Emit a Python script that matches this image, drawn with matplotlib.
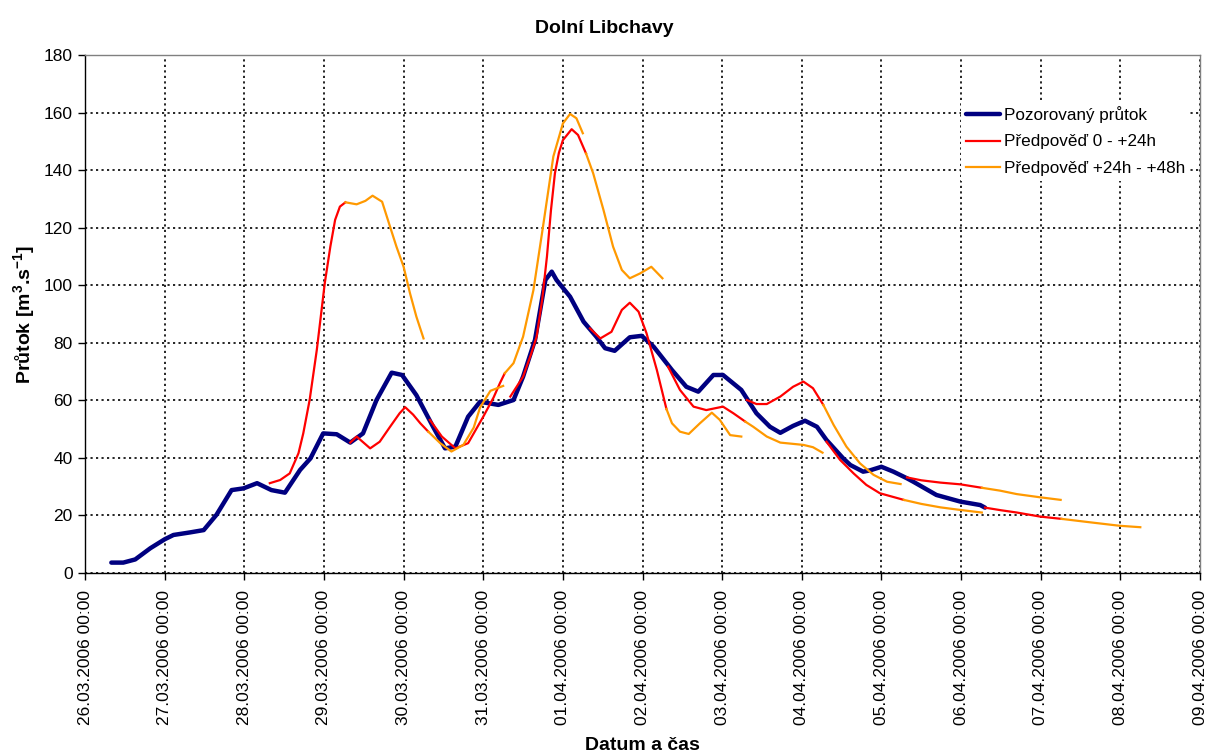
import datetime as dt
import matplotlib
matplotlib.use("Agg")
import matplotlib.pyplot as plt
import matplotlib.dates as mdates

plt.rcParams['font.family'] = ['Liberation Sans', 'DejaVu Sans']
plt.rcParams['mathtext.fontset'] = 'custom'
plt.rcParams['mathtext.rm'] = 'Liberation Sans'
plt.rcParams['mathtext.bf'] = 'Liberation Sans:bold'

# Time is given in days since 26.03.2006 00:00
START = dt.datetime(2006, 3, 26)

# Observed discharge
obs_days = [0.33, 0.48, 0.63, 0.82, 1.00, 1.11, 1.32, 1.49, 1.65, 1.84, 1.99, 2.16,
            2.34, 2.51, 2.70, 2.83, 2.99, 3.16, 3.33, 3.49, 3.66, 3.85, 3.98, 4.16,
            4.37, 4.52, 4.65, 4.81, 4.96, 5.19, 5.38, 5.50, 5.65, 5.78, 5.86, 5.92,
            6.09, 6.26, 6.42, 6.53, 6.65, 6.84, 6.99, 7.14, 7.37, 7.55, 7.70, 7.89,
            8.01, 8.24, 8.43, 8.60, 8.73, 8.89, 9.04, 9.19, 9.31, 9.52, 9.61, 9.77,
            9.85, 10.00, 10.15, 10.32, 10.40, 10.69, 10.99, 11.24, 11.30]
obs_vals = [3.6, 3.6, 4.7, 8.6, 11.7, 13.2, 14.1, 14.9, 20.2, 28.8, 29.4, 31.2,
            28.8, 27.9, 35.8, 39.8, 48.5, 48.2, 45.3, 48.5, 60.1, 69.6, 68.8, 61.8,
            50.8, 43.3, 43.9, 54.3, 59.5, 58.4, 60.1, 68.2, 81.0, 101.8, 104.7, 101.8,
            96.0, 87.3, 82.1, 78.1, 77.2, 81.9, 82.4, 78.6, 70.5, 64.7, 63.0, 68.8,
            68.8, 63.6, 55.5, 50.8, 48.7, 51.1, 52.9, 50.8, 46.2, 39.8, 37.5, 35.2,
            35.6, 36.9, 35.2, 32.9, 31.7, 27.1, 24.8, 23.6, 22.7]

# Forecasts, lead time 0 - 24 h (one run per day)
fc24_days = [
    [2.32, 2.45, 2.57, 2.68, 2.74, 2.82, 2.91, 2.97, 3.01, 3.08, 3.14, 3.20, 3.27],
    [3.33, 3.41, 3.58, 3.70, 3.83, 3.95, 4.02, 4.12, 4.21, 4.31],
    [4.33, 4.48, 4.65, 4.81, 5.00, 5.13, 5.21, 5.27],
    [5.34, 5.50, 5.60, 5.67, 5.74, 5.80, 5.85, 5.90, 5.95, 6.00, 6.11, 6.19, 6.29],
    [6.34, 6.47, 6.61, 6.74, 6.84, 6.95, 7.05, 7.18, 7.30],
    [7.32, 7.47, 7.64, 7.80, 8.01, 8.14, 8.29],
    [8.31, 8.43, 8.56, 8.73, 8.89, 9.02, 9.14, 9.27],
    [9.31, 9.48, 9.65, 9.81, 9.98, 10.28],
    [10.32, 10.50, 10.74, 10.99, 11.26],
    [11.30, 11.50, 11.70, 11.99, 12.26],
]
fc24_vals = [
    [31.2, 32.3, 34.6, 41.6, 48.5, 60.1, 77.5, 91.4, 100.7, 113.4, 122.7, 127.3, 128.8],
    [45.3, 47.4, 43.3, 45.6, 50.8, 55.5, 57.6, 55.0, 52.0, 49.1],
    [53.2, 47.4, 43.3, 45.1, 54.3, 61.0, 66.0, 69.4],
    [61.3, 68.2, 76.0, 82.1, 95.0, 110.0, 126.0, 138.9, 146.0, 150.4, 154.2, 152.2, 145.8],
    [85.0, 81.5, 83.8, 91.4, 93.9, 90.8, 83.3, 70.5, 57.0],
    [71.7, 63.6, 57.8, 56.6, 57.8, 55.5, 52.6],
    [60.1, 58.7, 58.7, 61.3, 64.7, 66.5, 64.2, 58.4],
    [45.6, 39.3, 34.6, 30.6, 27.7, 25.4],
    [33.2, 32.2, 31.4, 30.8, 29.6],
    [22.7, 21.8, 21.0, 19.6, 18.8],
]

# Forecasts, lead time 24 - 48 h
fc48_days = [
    [3.27, 3.41, 3.52, 3.61, 3.73, 3.83, 3.91, 4.00, 4.08, 4.16, 4.25],
    [4.31, 4.46, 4.60, 4.75, 4.88, 4.96, 5.09, 5.25],
    [5.27, 5.38, 5.50, 5.63, 5.75, 5.88, 6.00, 6.09, 6.17, 6.25],
    [6.29, 6.38, 6.51, 6.63, 6.74, 6.84, 6.97, 7.11, 7.25],
    [7.30, 7.37, 7.47, 7.58, 7.72, 7.87, 7.97, 8.10, 8.24],
    [8.29, 8.39, 8.56, 8.73, 9.02, 9.14, 9.26],
    [9.27, 9.40, 9.56, 9.73, 9.90, 10.07, 10.24],
    [10.28, 10.50, 10.74, 10.99, 11.26],
    [11.26, 11.49, 11.70, 11.99, 12.25],
    [12.26, 12.62, 12.99, 13.25],
]
fc48_vals = [
    [128.8, 128.1, 129.3, 131.1, 129.0, 120.3, 113.4, 106.4, 97.2, 89.1, 81.5],
    [49.1, 45.1, 42.2, 44.5, 50.5, 57.5, 63.3, 65.0],
    [69.4, 72.9, 82.1, 98.3, 120.3, 144.7, 156.2, 159.5, 158.0, 152.8],
    [145.8, 138.9, 126.1, 113.4, 105.3, 102.4, 104.1, 106.4, 102.4],
    [57.0, 52.0, 49.1, 48.3, 52.0, 55.7, 53.2, 47.9, 47.4],
    [52.6, 50.8, 47.4, 45.3, 44.5, 43.7, 41.8],
    [58.4, 51.4, 43.9, 38.1, 34.1, 31.7, 30.9],
    [25.4, 24.0, 22.8, 21.9, 21.0],
    [29.6, 28.6, 27.4, 26.3, 25.4],
    [18.8, 17.6, 16.4, 15.9],
]

labels = ['Pozorovaný průtok', 'Předpověď 0 - +24h', 'Předpověď +24h - +48h']
colors = ['#000080', '#FF0000', '#FF9900']
y_ticks = list(range(0, 181, 20))
n_days = 14


def to_dates(days):
    return [START + dt.timedelta(days=d) for d in days]


fig = plt.figure(figsize=(12.08, 7.54), dpi=100)
ax = fig.add_axes([0.0704, 0.2401, 0.9230, 0.6870])

grid_kw = dict(color='black', linewidth=1.2, linestyle=(0, (1.3, 2.0)))
ax.grid(True, **grid_kw)
ax.set_axisbelow(True)

h_obs, = ax.plot(to_dates(obs_days), obs_vals, color=colors[0], linewidth=3.2,
                 solid_capstyle='round', solid_joinstyle='round', zorder=3)
h24 = h48 = None
for d, v in zip(fc24_days, fc24_vals):
    h24, = ax.plot(to_dates(d), v, color=colors[1], linewidth=1.6,
                   solid_joinstyle='round', zorder=4)
for d, v in zip(fc48_days, fc48_vals):
    h48, = ax.plot(to_dates(d), v, color=colors[2], linewidth=1.6,
                   solid_joinstyle='round', zorder=5)

ax.set_xlim(START, START + dt.timedelta(days=n_days))
ax.set_ylim(0, 180)
ax.set_yticks(y_ticks)
ax.xaxis.set_major_locator(mdates.DayLocator())
ax.xaxis.set_major_formatter(mdates.DateFormatter('%d.%m.%Y %H:%M'))
ax.tick_params(axis='x', labelrotation=90, labelsize=12.5, length=5, width=1,
               direction='out', pad=7)
ax.tick_params(axis='y', labelsize=12.5, length=5, width=1, direction='out', pad=4)

for side in ('left', 'bottom'):
    ax.spines[side].set_color('black')
    ax.spines[side].set_linewidth(1.0)
for side in ('top', 'right'):
    ax.spines[side].set_color('#808080')
    ax.spines[side].set_linewidth(1.0)

fig.text(0.5, 0.962, 'Dolní Libchavy', ha='center', va='center',
         fontsize=14, fontweight='bold')
ax.set_xlabel('Datum a čas', fontsize=14, fontweight='bold', labelpad=9)
ax.set_ylabel(r'Průtok [m$^{\mathbf{3}}$.s$^{\mathbf{-1}}$]', fontsize=14,
              fontweight='bold', labelpad=4)

leg = ax.legend([h_obs, h24, h48], labels, loc='upper left',
                bbox_to_anchor=(0.778, 0.928), frameon=True, fancybox=False,
                fontsize=12.3, handlelength=2.0, handletextpad=0.2,
                labelspacing=0.68, borderpad=0.3)
leg.get_frame().set_edgecolor('none')
leg.get_frame().set_facecolor('white')
leg.get_frame().set_alpha(1.0)

fig.savefig('out.png', dpi=100)
